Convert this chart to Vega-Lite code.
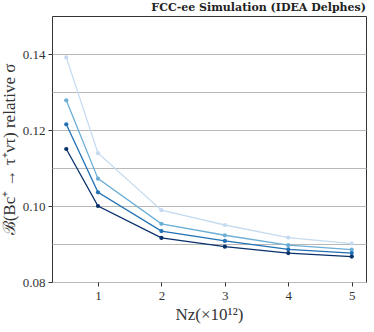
{
  "$schema": "https://vega.github.io/schema/vega-lite/v6.json",
  "autosize": "none",
  "width": 314,
  "height": 266,
  "padding": {"left": 52, "top": 16, "right": 8, "bottom": 50},
  "background": "white",
  "config": {
    "font": "Liberation Serif",
    "view": {"stroke": "#333333", "strokeWidth": 1}
  },
  "title": {
    "text": "FCC-ee Simulation (IDEA Delphes)",
    "anchor": "end",
    "frame": "group",
    "fontSize": 11,
    "fontWeight": "bold",
    "font": "DejaVu Serif",
    "color": "#222222",
    "offset": 3
  },
  "data": {
    "values": [
      {"nz": 0.5, "sigma": 0.1391, "series": "a"},
      {"nz": 1, "sigma": 0.1139, "series": "a"},
      {"nz": 2, "sigma": 0.0989, "series": "a"},
      {"nz": 3, "sigma": 0.0950, "series": "a"},
      {"nz": 4, "sigma": 0.0917, "series": "a"},
      {"nz": 5, "sigma": 0.0901, "series": "a"},
      {"nz": 0.5, "sigma": 0.1278, "series": "b"},
      {"nz": 1, "sigma": 0.1072, "series": "b"},
      {"nz": 2, "sigma": 0.0953, "series": "b"},
      {"nz": 3, "sigma": 0.0923, "series": "b"},
      {"nz": 4, "sigma": 0.0897, "series": "b"},
      {"nz": 5, "sigma": 0.0885, "series": "b"},
      {"nz": 0.5, "sigma": 0.1215, "series": "c"},
      {"nz": 1, "sigma": 0.1036, "series": "c"},
      {"nz": 2, "sigma": 0.0934, "series": "c"},
      {"nz": 3, "sigma": 0.0908, "series": "c"},
      {"nz": 4, "sigma": 0.0886, "series": "c"},
      {"nz": 5, "sigma": 0.0876, "series": "c"},
      {"nz": 0.5, "sigma": 0.1150, "series": "d"},
      {"nz": 1, "sigma": 0.1000, "series": "d"},
      {"nz": 2, "sigma": 0.0916, "series": "d"},
      {"nz": 3, "sigma": 0.0893, "series": "d"},
      {"nz": 4, "sigma": 0.0876, "series": "d"},
      {"nz": 5, "sigma": 0.0867, "series": "d"}
    ]
  },
  "encoding": {
    "x": {
      "field": "nz",
      "type": "quantitative",
      "scale": {"domain": [0.275, 5.225], "nice": false, "zero": false},
      "axis": {
        "values": [1, 2, 3, 4, 5],
        "grid": false,
        "title": "Nᴢ(×10¹²)",
        "titleFontSize": 17,
        "titleFontWeight": "normal",
        "titleColor": "#333333",
        "titlePadding": 4,
        "labelFontSize": 13,
        "labelColor": "#333333",
        "tickColor": "#333333",
        "tickSize": 4,
        "domain": false,
        "labelPadding": 3
      }
    },
    "y": {
      "field": "sigma",
      "type": "quantitative",
      "scale": {"domain": [0.08, 0.15], "nice": false, "zero": false},
      "axis": {
        "values": [0.08, 0.09, 0.10, 0.11, 0.12, 0.13, 0.14],
        "format": ".2f",
        "labelExpr": "round(datum.value*100) % 2 === 0 ? datum.label : ''",
        "tickOpacity": {"condition": {"test": "round(datum.value*100) % 2 === 1", "value": 0}, "value": 1},
        "grid": true,
        "gridColor": "#b8b8b8",
        "gridWidth": 1,
        "title": "ℬ(Bc⁺ → τ⁺ντ) relative σ",
        "titleFontSize": 17,
        "titleFontWeight": "normal",
        "titleColor": "#333333",
        "titlePadding": 4,
        "labelFontSize": 13,
        "labelColor": "#333333",
        "tickColor": "#333333",
        "tickSize": 4,
        "domain": false,
        "labelPadding": 3
      }
    },
    "color": {
      "field": "series",
      "type": "nominal",
      "scale": {"domain": ["a", "b", "c", "d"], "range": ["#c6dbef", "#6baed6", "#2171b5", "#08306b"]},
      "legend": null
    }
  },
  "layer": [
    {"mark": {"type": "line", "strokeWidth": 1.3}},
    {"mark": {"type": "point", "filled": true, "opacity": 1, "size": 18}}
  ]
}
